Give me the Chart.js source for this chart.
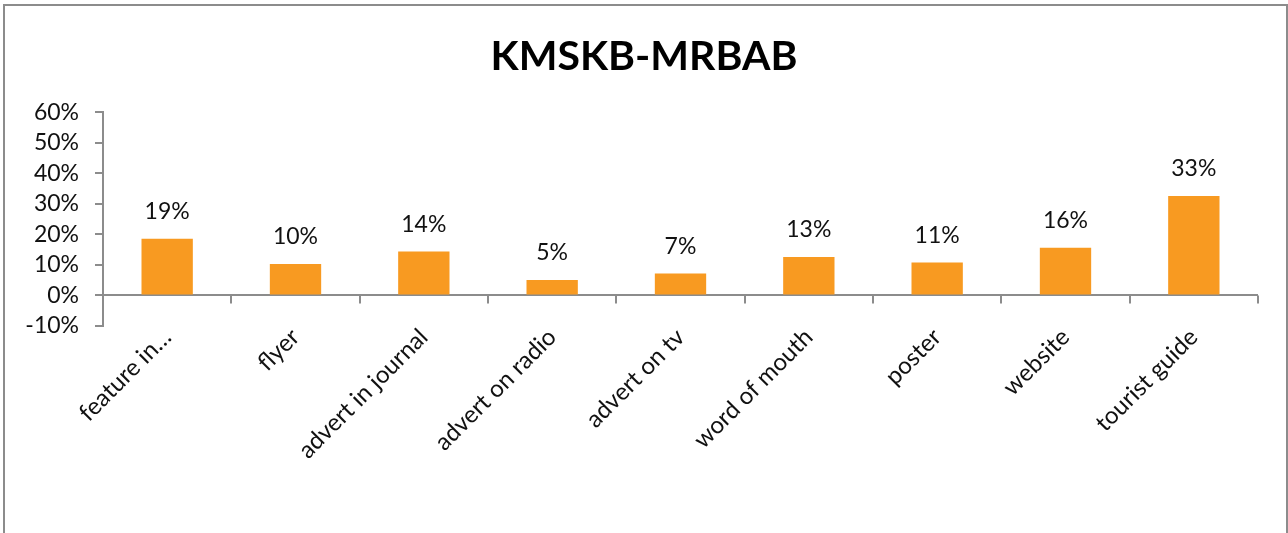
<!DOCTYPE html>
<html>
<head>
<meta charset="utf-8">
<script src="https://cdn.jsdelivr.net/npm/chart.js@4"></script>
<style>
    body { margin: 0; overflow: hidden; background: #fff; }
    #wrap { position: absolute; left: 0; top: 0; width: 1288px; height: 533px; }
    #frame {
        position: absolute; left: 3px; top: 4px; width: 1285px; height: 600px;
        border: 2px solid #8c8c8c; box-sizing: border-box; pointer-events: none;
    }
</style>
</head>
<body>
<div id="wrap"><canvas id="sourceChart"></canvas></div>
<div id="frame"></div>
<script>
// Chart data
const categories = ['feature in…', 'flyer', 'advert in journal', 'advert on radio', 'advert on tv', 'word of mouth', 'poster', 'website', 'tourist guide'];
const shares = [0.186, 0.103, 0.144, 0.051, 0.072, 0.126, 0.108, 0.156, 0.326];
const yTicks = [-0.1, 0, 0.1, 0.2, 0.3, 0.4, 0.5, 0.6];

const pct = v => Math.round(v * 100) + '%';

// value labels above each bar
const barLabels = {
    id: 'barLabels',
    afterDatasetsDraw(chart) {
        const c = chart.ctx;
        c.save();
        c.font = '23px Lato';
        c.fillStyle = '#111';
        c.textAlign = 'center';
        c.textBaseline = 'middle';
        chart.getDatasetMeta(0).data.forEach((bar, i) => {
            c.fillText(pct(shares[i]), bar.x, bar.y - 27);
        });
        c.restore();
    }
};

// small tick marks hanging under the zero line
const zeroTicks = {
    id: 'zeroTicks',
    afterDatasetsDraw(chart) {
        const x = chart.scales.x, y = chart.scales.y;
        const y0 = y.getPixelForValue(0);
        const step = x.width / categories.length;
        const c = chart.ctx;
        c.save();
        c.strokeStyle = '#8c8c8c';
        c.lineWidth = 2;
        c.beginPath();
        for (let i = 1; i <= categories.length; i++) {
            const px = Math.round(x.left + i * step);
            c.moveTo(px, y0);
            c.lineTo(px, y0 + 8);
        }
        c.stroke();
        c.restore();
    }
};

const ctx = document.getElementById('sourceChart').getContext('2d');
new Chart(ctx, {
    type: 'bar',
    data: {
        labels: categories,
        datasets: [{
            data: shares,
            backgroundColor: '#f89a21',
            borderWidth: 0,
            barPercentage: 0.4,
            categoryPercentage: 1
        }]
    },
    options: {
        responsive: true,
        maintainAspectRatio: false,
        animation: false,
        layout: { padding: 0 },
        plugins: {
            legend: { display: false },
            tooltip: { enabled: false },
            title: {
                display: true,
                text: 'KMSKB-MRBAB',
                color: '#000',
                font: { family: 'Lato', size: 41, weight: 'bold', lineHeight: 1.2 },
                padding: { top: 32, bottom: 31 }
            }
        },
        scales: {
            y: {
                min: -0.1,
                max: 0.6,
                afterBuildTicks: scale => { scale.ticks = yTicks.map(v => ({ value: v })); },
                afterFit: scale => { scale.width = 103; },
                border: { display: true, color: '#8c8c8c', width: 2 },
                grid: {
                    drawOnChartArea: true,
                    color: c => c.tick && c.tick.value === 0 ? '#8c8c8c' : 'rgba(0,0,0,0)',
                    tickColor: '#8c8c8c',
                    lineWidth: 2,
                    tickLength: 8
                },
                ticks: {
                    color: '#111',
                    padding: 16,
                    autoSkip: false,
                    font: { family: 'Lato', size: 23 },
                    callback: v => pct(v)
                }
            },
            // empty spacer on the right so the title stays centred on the page
            spacer: {
                type: 'linear',
                position: 'right',
                display: true,
                afterFit: scale => { scale.width = 30; },
                border: { display: false },
                grid: { display: false },
                ticks: { display: false }
            },
            x: {
                afterFit: scale => { scale.height = 207; },
                border: { display: false },
                grid: { display: false },
                ticks: {
                    color: '#111',
                    minRotation: 45,
                    maxRotation: 45,
                    padding: -11,
                    labelOffset: 0,
                    autoSkip: false,
                    font: { family: 'Lato', size: 24 }
                }
            }
        }
    },
    plugins: [barLabels, zeroTicks]
});
</script>
</body>
</html>
